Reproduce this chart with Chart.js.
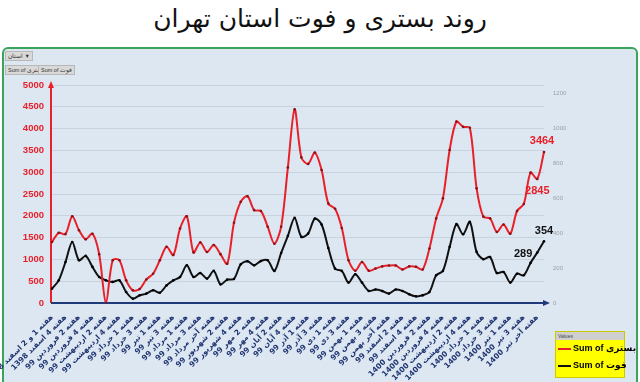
<!DOCTYPE html>
<html>
<head>
<meta charset="utf-8">
<script src="https://cdn.jsdelivr.net/npm/chart.js@4.4.1/dist/chart.umd.min.js"></script>
<style>
  body { margin: 0; background: #fff; width: 640px; height: 382px; overflow: hidden; position: relative; font-family: "DejaVu Sans", sans-serif; }
  #title { position: absolute; left: 0; top: 4px; width: 640px; text-align: center; font-size: 25px; color: #111; direction: rtl; }
  #frame { position: absolute; left: 2px; top: 47px; width: 632px; height: 345px; border: 2px solid #3aa55a; border-radius: 6px; background: #dde7f2; }
  .btn { position: absolute; background: #d9d9d9; border: 1px solid #b8b8b8; font: 5.5px "Liberation Sans", sans-serif; color: #333; padding: 0 2px; line-height: 8px; }
  #legend { position: absolute; left: 555px; top: 331px; width: 68px; height: 45px; background: #ffff00; border: 1px solid #c9c900; }
  #legend .hd { background: #cfcfcf; font: 5px "Liberation Sans", sans-serif; color: #444; height: 8px; line-height: 8px; padding-left: 2px; }
  #legend .row { position: relative; height: 17px; font: bold 9px "Liberation Sans", "DejaVu Sans", sans-serif; line-height: 17px; padding-left: 17px; white-space: nowrap; }
  #legend .row i { position: absolute; left: 2px; top: 8px; width: 13px; height: 2px; }
  canvas { position: absolute; left: 0; top: 0; }
</style>
</head>
<body>
<div id="title">روند بستری و فوت استان تهران</div>
<div id="frame"></div>
<div class="btn" style="left:5px;top:51px;">استان ▼</div>
<div class="btn" style="left:5px;top:65px;">Sum of بستری</div>
<div class="btn" style="left:38px;top:65px;">Sum of فوت</div>
<canvas id="chart" width="640" height="382"></canvas>
<div id="legend">
  <div class="hd">Values</div>
  <div class="row"><i style="background:#e8202a"></i>Sum of بستری</div>
  <div class="row"><i style="background:#111"></i>Sum of فوت</div>
</div>
<script>
// هفته ها
const weeks = [
  "هفته 1 و 2 اسفند 1398", "هفته 3 اسفند 1398", "هفته 4 اسفند 1398", "هفته 1 فروردین 99",
  "هفته 2 فروردین 99", "هفته 3 فروردین 99", "هفته 4 فروردین 99", "هفته 1 اردیبهشت 99",
  "هفته 2 اردیبهشت 99", "هفته 3 اردیبهشت 99", "هفته 4 اردیبهشت 99", "هفته آخر اردیبهشت 99",
  "هفته 1 خرداد 99", "هفته 2 خرداد 99", "هفته 3 خرداد 99", "هفته 4 خرداد 99",
  "هفته 1 تیر 99", "هفته 2 تیر 99", "هفته 3 تیر 99", "هفته 4 تیر 99",
  "هفته 1 مرداد 99", "هفته 2 مرداد 99", "هفته 3 مرداد 99", "هفته 4 مرداد 99",
  "هفته آخر مرداد 99", "هفته 1 شهریور 99", "هفته 2 شهریور 99", "هفته 3 شهریور 99",
  "هفته 4 شهریور 99", "هفته 1 مهر 99", "هفته 2 مهر 99", "هفته 3 مهر 99",
  "هفته 4 مهر 99", "هفته 1 آبان 99", "هفته 2 آبان 99", "هفته 3 آبان 99",
  "هفته 4 آبان 99", "هفته آخر آبان 99", "هفته 1 آذر 99", "هفته 2 آذر 99",
  "هفته 3 آذر 99", "هفته 4 آذر 99", "هفته 1 دی 99", "هفته 2 دی 99",
  "هفته 3 دی 99", "هفته 4 دی 99", "هفته 1 بهمن 99", "هفته 2 بهمن 99",
  "هفته 3 بهمن 99", "هفته 4 بهمن 99", "هفته آخر بهمن 99", "هفته 1 اسفند 99",
  "هفته 2 اسفند 99", "هفته 3 اسفند 99", "هفته 4 اسفند 99", "هفته 1 فروردین 1400",
  "هفته 2 فروردین 1400", "هفته 3 فروردین 1400", "هفته 4 فروردین 1400", "هفته 1 اردیبهشت 1400",
  "هفته 2 اردیبهشت 1400", "هفته 3 اردیبهشت 1400", "هفته 4 اردیبهشت 1400", "هفته آخر اردیبهشت 1400",
  "هفته 1 خرداد 1400", "هفته 2 خرداد 1400", "هفته 3 خرداد 1400", "هفته 4 خرداد 1400",
  "هفته 1 تیر 1400", "هفته 2 تیر 1400", "هفته 3 تیر 1400", "هفته 4 تیر 1400",
  "هفته آخر تیر 1400", "هفته 1 مرداد 1400"
];

// بستری (محور چپ)
const hospitalized = [
  1400, 1610, 1580, 1990, 1670, 1460, 1590, 1120, 0, 980,
  980, 520, 290, 320, 540, 670, 980, 1290, 1100, 1710,
  1990, 1160, 1390, 1170, 1330, 1120, 900, 1840, 2320, 2450,
  2130, 2110, 1750, 1360, 1750, 3110, 4440, 3340, 3190, 3450,
  3050, 2280, 2160, 1720, 980, 740, 940, 740, 790, 840,
  860, 860, 770, 840, 830, 770, 1250, 1940, 2400, 3510,
  4160, 4040, 4020, 2630, 1980, 1940, 1630, 1800, 1590, 2110,
  2270, 2990, 2845, 3464
];

// فوت (محور راست)
const deaths = [
  82, 130, 235, 350, 245, 270, 207, 149, 130, 121,
  130, 63, 25, 44, 54, 73, 59, 101, 130, 149,
  216, 149, 172, 140, 184, 107, 134, 138, 222, 239,
  216, 241, 245, 184, 287, 385, 488, 379, 398, 484,
  450, 315, 197, 184, 117, 165, 117, 69, 77, 69,
  54, 77, 69, 50, 38, 44, 63, 159, 184, 322,
  452, 394, 465, 293, 251, 264, 172, 178, 117, 168,
  159, 230, 289, 354
];

// برچسب مقدارها روی دو نقطه آخر
const labeledPoints = [72, 73];

const RED = "#e8202a";

// محورها با فلش (مثل اکسل) + برچسب مقدارها
const axisArrows = {
  id: "axisArrows",
  beforeDatasetsDraw(chart) {
    const { ctx, chartArea: a } = chart;
    const x0 = a.left - 1, y0 = a.bottom;
    ctx.save();
    ctx.lineWidth = 2;
    ctx.strokeStyle = RED; ctx.fillStyle = RED;
    ctx.beginPath(); ctx.moveTo(x0, y0); ctx.lineTo(x0, a.top - 1); ctx.stroke();
    ctx.beginPath(); ctx.moveTo(x0 - 3, a.top + 3); ctx.lineTo(x0, a.top - 4); ctx.lineTo(x0 + 3, a.top + 3); ctx.fill();
    ctx.strokeStyle = "#1f3a78"; ctx.fillStyle = "#1f3a78";
    ctx.beginPath(); ctx.moveTo(x0, y0); ctx.lineTo(a.right + 2, y0); ctx.stroke();
    ctx.beginPath(); ctx.moveTo(a.right - 1, y0 - 3); ctx.lineTo(a.right + 6, y0); ctx.lineTo(a.right - 1, y0 + 3); ctx.fill();
    ctx.restore();
  },
  afterDatasetsDraw(chart) {
    const { ctx } = chart;
    ctx.save();
    ctx.font = "bold 11px 'Liberation Sans', sans-serif";
    ctx.textBaseline = "middle";
    const red = chart.getDatasetMeta(0).data, blk = chart.getDatasetMeta(1).data;
    const [a, b] = labeledPoints;
    ctx.fillStyle = RED;
    ctx.textAlign = "center";
    ctx.fillText(hospitalized[b], red[b].x - 2, red[b].y - 11);
    ctx.fillText(hospitalized[a], red[a].x, red[a].y + 12);
    ctx.fillStyle = "#111";
    ctx.fillText(deaths[b], blk[b].x, blk[b].y - 10);
    ctx.textAlign = "right";
    ctx.fillText(deaths[a], blk[a].x - 5, blk[a].y + 1);
    ctx.restore();
  }
};

new Chart(document.getElementById("chart"), {
  type: "line",
  data: {
    labels: weeks,
    datasets: [{
      label: "Sum of بستری",
      data: hospitalized,
      yAxisID: "y",
      borderColor: RED,
      borderWidth: 2,
      pointRadius: 1.3,
      pointBackgroundColor: "#8a1015",
      pointBorderWidth: 0,
      tension: 0.3
    }, {
      label: "Sum of فوت",
      data: deaths,
      yAxisID: "y1",
      borderColor: "#111",
      borderWidth: 2,
      pointRadius: 1.3,
      pointBackgroundColor: "#000",
      pointBorderWidth: 0,
      tension: 0.3
    }]
  },
  options: {
    responsive: false,
    animation: false,
    layout: { padding: { top: 85 } },
    plugins: { legend: { display: false }, tooltip: { enabled: false } },
    scales: {
      x: {
        offset: false,
        grid: { display: false },
        border: { display: false },
        ticks: {
          autoSkip: false,
          maxRotation: 45,
          minRotation: 45,
          padding: 2,
          color: "#1f3470",
          font: { family: "DejaVu Sans", size: 7.5, weight: "bold" },
          callback: (v, i) => (i % 2 === 0 ? weeks[i] : "")
        },
        afterFit: s => { s.height = 79; s.paddingLeft = 0; s.paddingRight = 0; }
      },
      y: {
        position: "left",
        min: 0, max: 5000,
        ticks: { stepSize: 500, color: RED, padding: 8, font: { family: "Liberation Sans", size: 9.5, weight: "bold" }, callback: v => String(v) },
        grid: { color: "#c9d3de", drawTicks: false },
        border: { display: false },
        afterFit: s => { s.width = 52; }
      },
      y1: {
        position: "right",
        min: 0, max: 1250,
        ticks: { stepSize: 200, includeBounds: false, color: "#9aa0a8", padding: 9, font: { family: "Liberation Sans", size: 6 }, callback: v => String(v) },
        grid: { display: false, drawTicks: false },
        border: { display: false },
        afterFit: s => { s.width = 96; }
      }
    }
  },
  plugins: [axisArrows]
});
</script>
</body>
</html>
